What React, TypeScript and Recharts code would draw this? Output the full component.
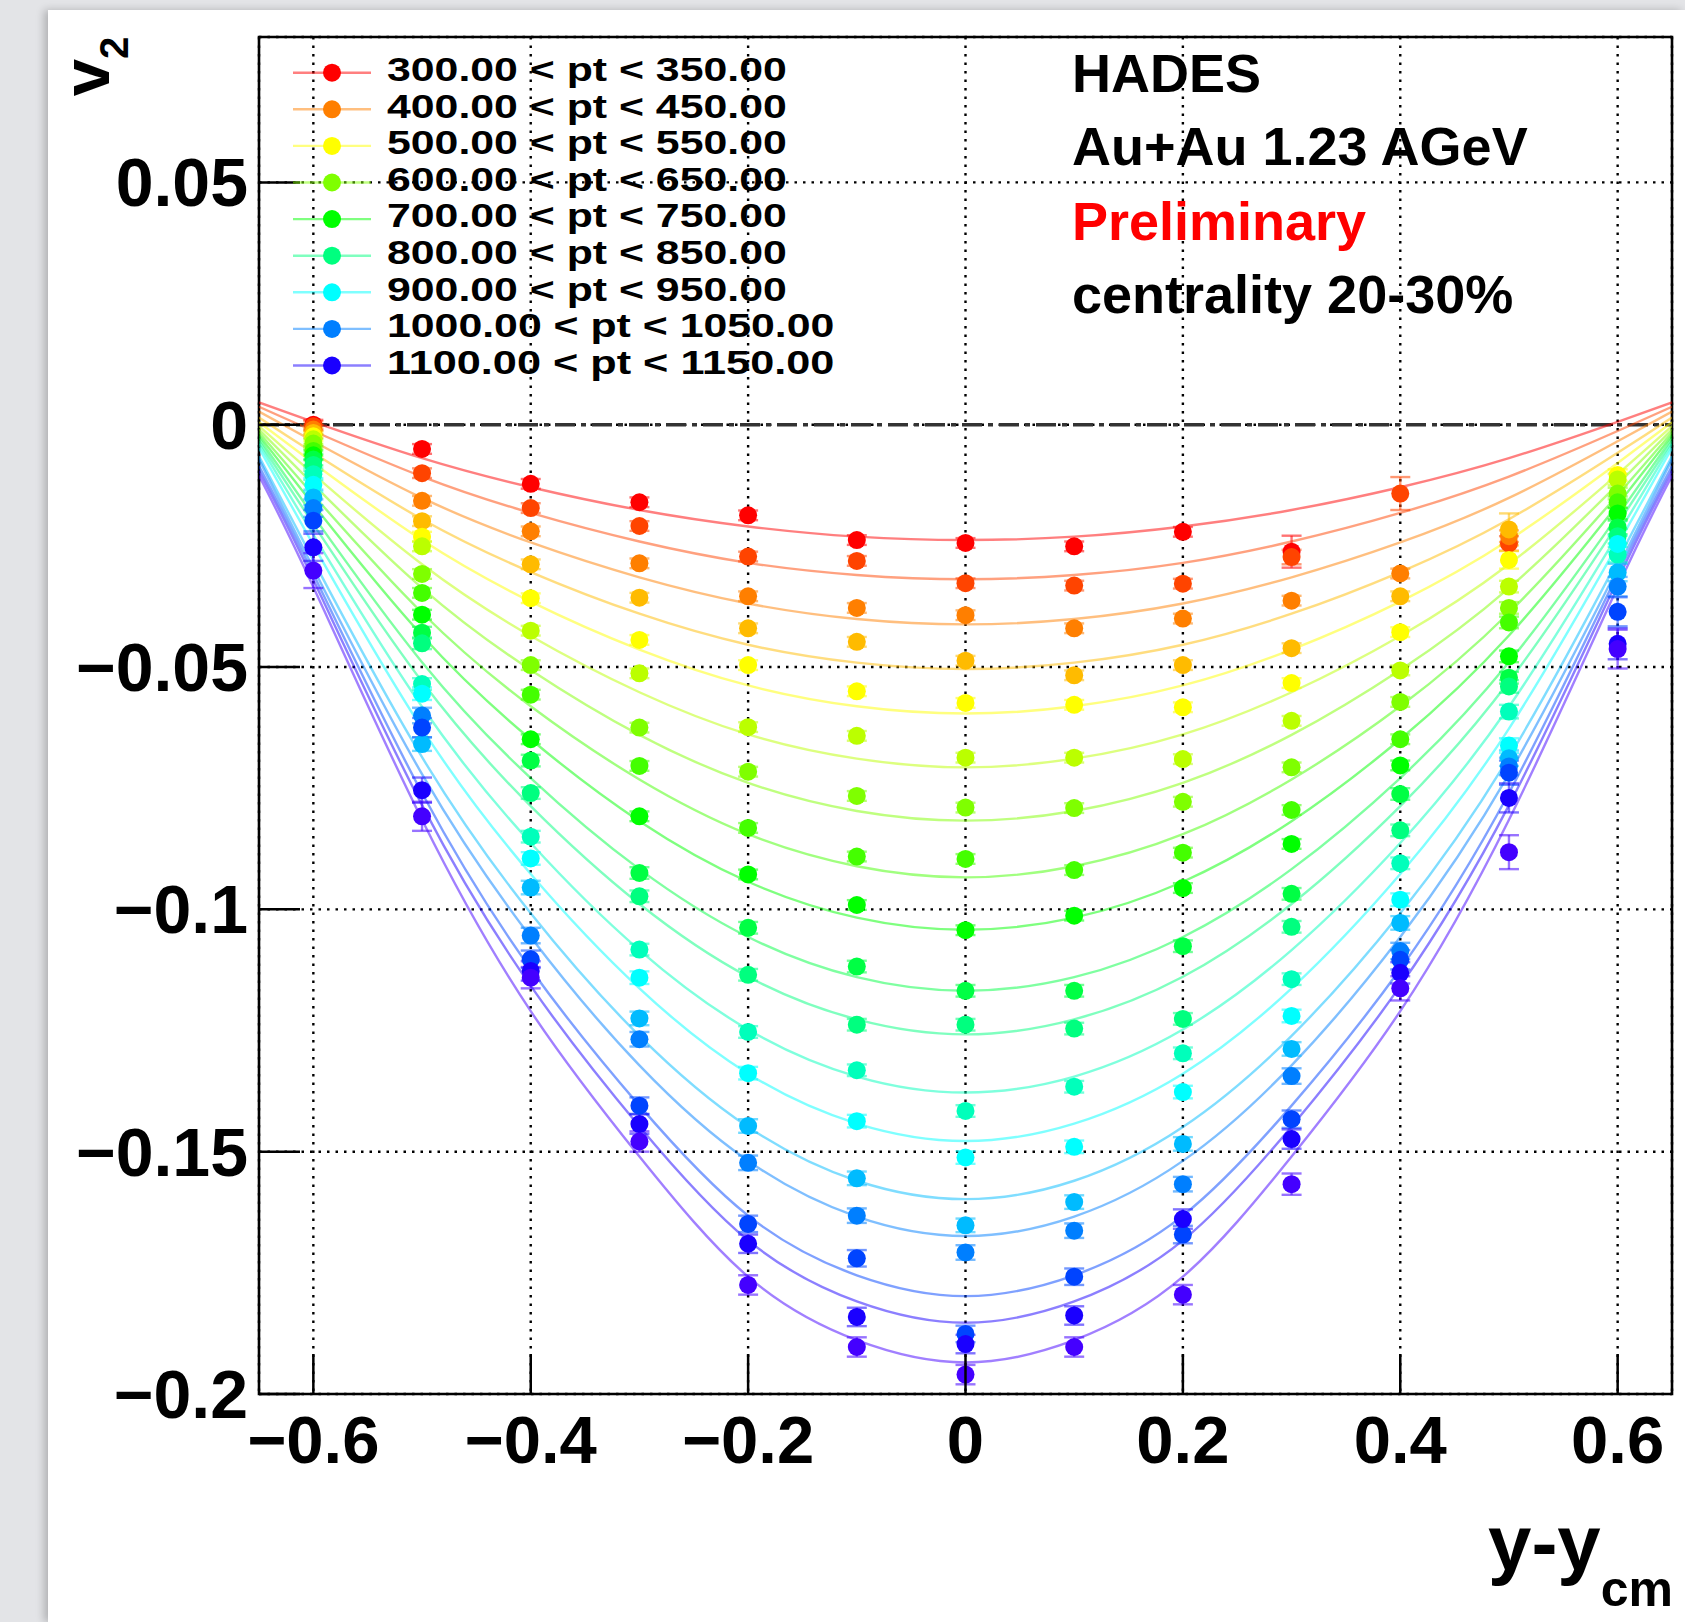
import React from 'react';
import {
  ComposedChart, Line, Scatter, XAxis, YAxis, CartesianGrid,
  ReferenceLine, ReferenceArea, ErrorBar,
} from 'recharts';

const FONT = '"Liberation Sans", Arial, Helvetica, sans-serif';

// rapidity (y - y_cm) columns of the measured points
const pointX = [-0.6, -0.5, -0.4, -0.3, -0.2, -0.1, 0, 0.1, 0.2, 0.3, 0.4, 0.5, 0.6];
// sampling positions of the symmetric fit curves (right half, mirrored to the left)
const fitHalfX = [0, 0.1, 0.2, 0.3, 0.4, 0.5, 0.6, 0.65];

const ptLow = [300, 350, 400, 450, 500, 550, 600, 650, 700, 750, 800, 850, 900, 950, 1000, 1050, 1100, 1150];
const ptHigh = [350, 400, 450, 500, 550, 600, 650, 700, 750, 800, 850, 900, 950, 1000, 1050, 1100, 1150, 1200];
const legendIndices = [0, 2, 4, 6, 8, 10, 12, 14, 16];

const markerColors = [
  '#ff0000', '#ff4400', '#ff7f00', '#ffbb00', '#ffff00', '#bbff00', '#7fff00', '#44ff00', '#00ff00',
  '#00ff44', '#00ff7f', '#00ffbb', '#00ffff', '#00bbff', '#007fff', '#0044ff', '#1a00ff', '#4400ff',
];

// v2 values of the points, x = pointX
const pts300 = [0.0, -0.005, -0.0122, -0.016, -0.0187, -0.0238, -0.0244, -0.0251, -0.0221, -0.0262, null, null, null];
const pts350 = [-0.0003, -0.01, -0.0172, -0.0209, -0.0272, -0.0281, -0.0327, -0.0332, -0.0328, -0.0273, -0.0142, -0.0245, null];
const pts400 = [-0.001, -0.0157, -0.022, -0.0286, -0.0354, -0.0378, -0.0393, -0.042, -0.04, -0.0363, -0.0307, -0.023, null];
const pts450 = [-0.0017, -0.0199, -0.0288, -0.0357, -0.042, -0.0448, -0.0487, -0.0517, -0.0496, -0.0461, -0.0354, -0.0216, null];
const pts500 = [-0.0024, -0.0231, -0.0358, -0.0444, -0.0496, -0.055, -0.0574, -0.0578, -0.0583, -0.0533, -0.0428, -0.0279, -0.0104];
const pts550 = [-0.003, -0.0251, -0.0425, -0.0513, -0.0624, -0.0642, -0.0687, -0.0687, -0.069, -0.0611, -0.0507, -0.0334, -0.0113];
const pts600 = [-0.0039, -0.0308, -0.0496, -0.0625, -0.0716, -0.0766, -0.079, -0.0791, -0.0778, -0.0707, -0.0572, -0.0378, -0.0142];
const pts650 = [-0.0054, -0.0347, -0.0557, -0.0704, -0.0832, -0.0891, -0.0896, -0.0919, -0.0883, -0.0795, -0.0649, -0.0408, -0.016];
const pts700 = [-0.0063, -0.0392, -0.0649, -0.0808, -0.0928, -0.0991, -0.1043, -0.1013, -0.0956, -0.0865, -0.0703, -0.0478, -0.0183];
const pts750 = [-0.0072, -0.0429, -0.0693, -0.0925, -0.1038, -0.1118, -0.1168, -0.1168, -0.1076, -0.0968, -0.0762, -0.0522, -0.0212];
const pts800 = [-0.0083, -0.0451, -0.076, -0.0973, -0.1135, -0.1238, -0.1238, -0.1246, -0.1226, -0.1036, -0.0837, -0.054, -0.023];
const pts850 = [-0.0102, -0.0535, -0.085, -0.1083, -0.1253, -0.1332, -0.1416, -0.1366, -0.1297, -0.1144, -0.0905, -0.0592, -0.0268];
const pts900 = [-0.0124, -0.0555, -0.0895, -0.1141, -0.1338, -0.1437, -0.1512, -0.149, -0.1377, -0.122, -0.098, -0.0662, -0.0246];
const pts950 = [-0.015, -0.0659, -0.0955, -0.1225, -0.1447, -0.1555, -0.1652, -0.1604, -0.1484, -0.1288, -0.1028, -0.0688, -0.0305];
const pts1000 = [-0.0172, -0.06, -0.1054, -0.1268, -0.1523, -0.1632, -0.1708, -0.1663, -0.1567, -0.1344, -0.1086, -0.0705, -0.0334];
const pts1050 = [-0.0198, -0.0625, -0.1103, -0.1405, -0.1649, -0.172, -0.1876, -0.1758, -0.1671, -0.1433, -0.1104, -0.0718, -0.0386];
const pts1100 = [-0.0253, -0.0754, -0.1127, -0.1443, -0.169, -0.1841, -0.1897, -0.1838, -0.1639, -0.1474, -0.1131, -0.077, -0.0452];
const pts1150 = [-0.0301, -0.0808, -0.1141, -0.1479, -0.1775, -0.1903, -0.196, -0.1903, -0.1795, -0.1567, -0.1163, -0.0882, -0.0463];

// statistical errors of the points
const err300 = [0.001, 0.001, 0.001, 0.001, 0.001, 0.001, 0.001, 0.001, 0.001, 0.0033, null, null, null];
const err350 = [0.001, 0.001, 0.001, 0.001, 0.001, 0.001, 0.001, 0.001, 0.001, 0.0015, 0.0034, 0.0015, null];
const err400 = [0.001, 0.001, 0.001, 0.001, 0.001, 0.001, 0.001, 0.001, 0.001, 0.001, 0.001, 0.0012, null];
const err450 = [0.001, 0.001, 0.001, 0.001, 0.001, 0.001, 0.001, 0.001, 0.001, 0.001, 0.001, 0.0033, null];
const err500 = [0.001, 0.001, 0.001, 0.001, 0.001, 0.001, 0.001, 0.001, 0.001, 0.001, 0.001, 0.0018, 0.0012];
const err550 = [0.001, 0.001, 0.001, 0.001, 0.001, 0.001, 0.001, 0.001, 0.001, 0.001, 0.001, 0.0012, 0.0012];
const err600 = [0.001, 0.001, 0.001, 0.001, 0.001, 0.001, 0.001, 0.001, 0.001, 0.001, 0.001, 0.0012, 0.0012];
const err650 = [0.001, 0.001, 0.001, 0.001, 0.001, 0.001, 0.001, 0.001, 0.001, 0.001, 0.001, 0.0012, 0.0012];
const err700 = [0.001, 0.001, 0.001, 0.001, 0.001, 0.001, 0.001, 0.001, 0.001, 0.001, 0.001, 0.0012, 0.0012];
const err750 = [0.0012, 0.0012, 0.0012, 0.0012, 0.0012, 0.0012, 0.0012, 0.0012, 0.0012, 0.0012, 0.0012, 0.0012, 0.0014];
const err800 = [0.0012, 0.0012, 0.0012, 0.0012, 0.0012, 0.0012, 0.0012, 0.0012, 0.0012, 0.0012, 0.0012, 0.0013, 0.0015];
const err850 = [0.0012, 0.0012, 0.0012, 0.0012, 0.0012, 0.0012, 0.0012, 0.0012, 0.0012, 0.0012, 0.0012, 0.0014, 0.0016];
const err900 = [0.0014, 0.0013, 0.0013, 0.0013, 0.0013, 0.0013, 0.0013, 0.0013, 0.0013, 0.0013, 0.0013, 0.0015, 0.0017];
const err950 = [0.0016, 0.0014, 0.0014, 0.0014, 0.0014, 0.0014, 0.0014, 0.0014, 0.0014, 0.0014, 0.0014, 0.0016, 0.0018];
const err1000 = [0.0018, 0.0016, 0.0016, 0.0015, 0.0015, 0.0015, 0.0015, 0.0015, 0.0015, 0.0016, 0.0017, 0.0018, 0.002];
const err1050 = [0.0022, 0.002, 0.0018, 0.0017, 0.0017, 0.0017, 0.0017, 0.0017, 0.0018, 0.0018, 0.002, 0.0025, 0.003];
const err1100 = [0.0028, 0.0026, 0.002, 0.002, 0.0019, 0.0019, 0.0019, 0.0019, 0.002, 0.002, 0.0022, 0.003, 0.0032];
const err1150 = [0.0036, 0.003, 0.0022, 0.0021, 0.002, 0.002, 0.002, 0.002, 0.002, 0.0022, 0.0025, 0.0035, 0.004];

// fit curves, read at x = fitHalfX (curves are symmetric about y-ycm = 0)
const fit300 = [-0.0238, -0.0231, -0.021, -0.0176, -0.0129, -0.0069, 0.0006, 0.0046];
const fit350 = [-0.0319, -0.031, -0.0285, -0.0241, -0.0182, -0.0107, -0.0013, 0.0037];
const fit400 = [-0.0412, -0.0401, -0.0369, -0.0315, -0.0243, -0.0151, -0.0034, 0.0027];
const fit450 = [-0.0504, -0.0491, -0.0454, -0.039, -0.0304, -0.0195, -0.0058, 0.0015];
const fit500 = [-0.0596, -0.0581, -0.0538, -0.0464, -0.0365, -0.0238, -0.0079, 0.0005];
const fit550 = [-0.0707, -0.0689, -0.0639, -0.0552, -0.0436, -0.0288, -0.0102, -0.0003];
const fit600 = [-0.0817, -0.0797, -0.0739, -0.064, -0.0506, -0.0337, -0.0123, -0.001];
const fit650 = [-0.0934, -0.0911, -0.0845, -0.0732, -0.0581, -0.0388, -0.0145, -0.0016];
const fit700 = [-0.1042, -0.1017, -0.0943, -0.0818, -0.0649, -0.0435, -0.0165, -0.0022];
const fit750 = [-0.1168, -0.114, -0.1057, -0.0917, -0.0729, -0.049, -0.0188, -0.0028];
const fit800 = [-0.1258, -0.1227, -0.1139, -0.0989, -0.0787, -0.053, -0.0205, -0.0034];
const fit850 = [-0.1378, -0.1345, -0.1248, -0.1084, -0.0863, -0.0582, -0.0227, -0.004];
const fit900 = [-0.1478, -0.1442, -0.1339, -0.1163, -0.0927, -0.0627, -0.0248, -0.0048];
const fit950 = [-0.1598, -0.156, -0.1449, -0.1261, -0.1008, -0.0686, -0.028, -0.0065];
const fit1000 = [-0.1674, -0.1634, -0.1519, -0.1322, -0.1057, -0.0721, -0.0296, -0.0072];
const fit1050 = [-0.1798, -0.1755, -0.1632, -0.1405, -0.1123, -0.076, -0.0308, -0.0085];
const fit1100 = [-0.1853, -0.1809, -0.1683, -0.1448, -0.1158, -0.0785, -0.032, -0.0095];
const fit1150 = [-0.1935, -0.1889, -0.1758, -0.151, -0.121, -0.0815, -0.0335, -0.0105];

const xTicks = [-0.6, -0.4, -0.2, 0, 0.2, 0.4, 0.6];
const xTickLabels = ['\u22120.6', '\u22120.4', '\u22120.2', '0', '0.2', '0.4', '0.6'];
const yTicks = [-0.2, -0.15, -0.1, -0.05, 0, 0.05];
const yTickLabels = ['\u22120.2', '\u22120.15', '\u22120.1', '\u22120.05', '0', '0.05'];

const annotations = ['HADES', 'Au+Au 1.23 AGeV', 'Preliminary', 'centrality 20-30%'];
const annotationColors = ['#000', '#000', '#ff0000', '#000'];

const allPts = [pts300, pts350, pts400, pts450, pts500, pts550, pts600, pts650, pts700, pts750, pts800, pts850, pts900, pts950, pts1000, pts1050, pts1100, pts1150];
const allErr = [err300, err350, err400, err450, err500, err550, err600, err650, err700, err750, err800, err850, err900, err950, err1000, err1050, err1100, err1150];
const allFit = [fit300, fit350, fit400, fit450, fit500, fit550, fit600, fit650, fit700, fit750, fit800, fit850, fit900, fit950, fit1000, fit1050, fit1100, fit1150];

const fitX = [...fitHalfX.slice(1).reverse().map((x) => -x), ...fitHalfX];

const series = ptLow.map((lo, i) => ({
  name: `${lo.toFixed(2)} < pt < ${ptHigh[i].toFixed(2)}`,
  color: markerColors[i],
  points: pointX
    .map((x, j) => ({ x, y: allPts[i][j], err: allErr[i][j] }))
    .filter((p) => p.y !== null),
  curve: fitX.map((x, j) => {
    const half = allFit[i];
    const full = [...half.slice(1).reverse(), ...half];
    return { x, y: full[j] };
  }),
}));

// Helvetica-bold advance widths (em) used to size the legend labels
const advance = (s: string) =>
  s.split('').reduce((w, c) => {
    if (c >= '0' && c <= '9') return w + 0.556;
    if (c === '.' || c === ' ') return w + 0.278;
    if (c === '<') return w + 0.584;
    if (c === 'p') return w + 0.611;
    if (c === 't') return w + 0.333;
    return w + 0.556;
  }, 0);

const W = 1685;
const H = 1622;
const PLOT_LEFT = 259;
const PLOT_TOP = 37;
const PLOT_RIGHT = 1672;
const PLOT_BOTTOM = 1394;

const XTick = (props: any) => {
  const { x, y, payload } = props;
  const idx = xTicks.findIndex((t) => Math.abs(t - payload.value) < 1e-9);
  return (
    <g>
      <line x1={x} y1={y} x2={x} y2={y - 40} stroke="#000" strokeWidth={2.5} />
      <text x={x} y={y + 69} textAnchor="middle" fontSize={67} fontWeight="bold" fontFamily={FONT} fill="#000">
        {xTickLabels[idx]}
      </text>
    </g>
  );
};

const YTick = (props: any) => {
  const { x, y, payload } = props;
  const idx = yTicks.findIndex((t) => Math.abs(t - payload.value) < 1e-9);
  return (
    <g>
      <line x1={x} y1={y} x2={x + 41} y2={y} stroke="#000" strokeWidth={2.5} />
      <text x={x - 11} y={y + 24} textAnchor="end" fontSize={68} fontWeight="bold" fontFamily={FONT} fill="#000">
        {yTickLabels[idx]}
      </text>
    </g>
  );
};

export default function App() {
  return (
    <div style={{ position: 'fixed', left: 0, top: 0, width: W, height: H, background: '#e3e4e7', overflow: 'hidden' }}>
      <div
        style={{
          position: 'absolute', left: 48, top: 10, width: W - 48, height: H - 10,
          background: '#ffffff', boxShadow: '-4px 0 8px rgba(0,0,0,0.22)',
        }}
      />
      <div style={{ position: 'absolute', left: 0, top: 0 }}>
        <ComposedChart
          width={W}
          height={H}
          margin={{ top: PLOT_TOP, right: W - PLOT_RIGHT, bottom: 0, left: 0 }}
        >
          <CartesianGrid stroke="#000" strokeWidth={2.4} strokeDasharray="2.5 6" />
          <XAxis
            type="number"
            dataKey="x"
            domain={[-0.65, 0.65]}
            ticks={xTicks}
            allowDataOverflow
            height={H - PLOT_BOTTOM}
            axisLine={false}
            tickLine={false}
            tickSize={0}
            tickMargin={0}
            tick={XTick}
            interval={0}
          />
          <YAxis
            type="number"
            domain={[-0.2, 0.08]}
            ticks={yTicks}
            allowDataOverflow
            width={PLOT_LEFT}
            axisLine={false}
            tickLine={false}
            tickSize={0}
            tickMargin={0}
            tick={YTick}
            interval={0}
          />
          <ReferenceLine y={0} stroke="#333" strokeWidth={3.4} strokeDasharray="20 6 5 6" />
          {series.map((s, i) => (
            <Line
              key={`fit-${i}`}
              data={s.curve}
              dataKey="y"
              type="natural"
              stroke={s.color}
              strokeOpacity={0.5}
              strokeWidth={2.4}
              dot={false}
              activeDot={false}
              isAnimationActive={false}
              connectNulls
            />
          ))}
          {series.map((s, i) => (
            <Scatter
              key={`pts-${i}`}
              data={s.points}
              dataKey="y"
              fill={s.color}
              isAnimationActive={false}
              shape={(p: any) => <circle cx={p.cx} cy={p.cy} r={9} fill={s.color} />}
            >
              <ErrorBar dataKey="err" direction="y" width={10} stroke={s.color} strokeOpacity={0.55} strokeWidth={2.4} />
            </Scatter>
          ))}
          <ReferenceArea x1={-0.65} x2={0.65} y1={-0.2} y2={0.08} fill="none" stroke="#000" strokeWidth={2.6} />
        </ComposedChart>
      </div>
      <svg width={W} height={H} style={{ position: 'absolute', left: 0, top: 0, pointerEvents: 'none' }}>
        {legendIndices.map((si, k) => {
          const cy = 72.7 + 36.6 * k;
          const s = series[si];
          return (
            <g key={`leg-${si}`}>
              <line x1={293} y1={cy} x2={371} y2={cy} stroke={s.color} strokeOpacity={0.5} strokeWidth={2.4} />
              <circle cx={332} cy={cy} r={9} fill={s.color} />
              <text
                x={387}
                y={cy + 8.3}
                fontSize={33}
                fontWeight="bold"
                fontFamily={FONT}
                fill="#000"
                textLength={advance(s.name) * 42.8}
                lengthAdjust="spacingAndGlyphs"
              >
                {s.name}
              </text>
            </g>
          );
        })}
        {annotations.map((t, k) => (
          <text
            key={t}
            x={1072}
            y={[91.7, 165, 240, 313.3][k]}
            fontSize={54}
            fontWeight="bold"
            fontFamily={FONT}
            fill={annotationColors[k]}
          >
            {t}
          </text>
        ))}
        <text
          transform="rotate(-90)"
          x={-36.7}
          y={109}
          textAnchor="end"
          fontSize={67}
          fontWeight="bold"
          fontFamily={FONT}
          fill="#000"
        >
          v<tspan fontSize={40} dy={19}>2</tspan>
        </text>
        <text x={1488} y={1570} fontSize={78} fontWeight="bold" fontFamily={FONT} fill="#000">
          y-y<tspan fontSize={50} dy={36}>cm</tspan>
        </text>
      </svg>
    </div>
  );
}
